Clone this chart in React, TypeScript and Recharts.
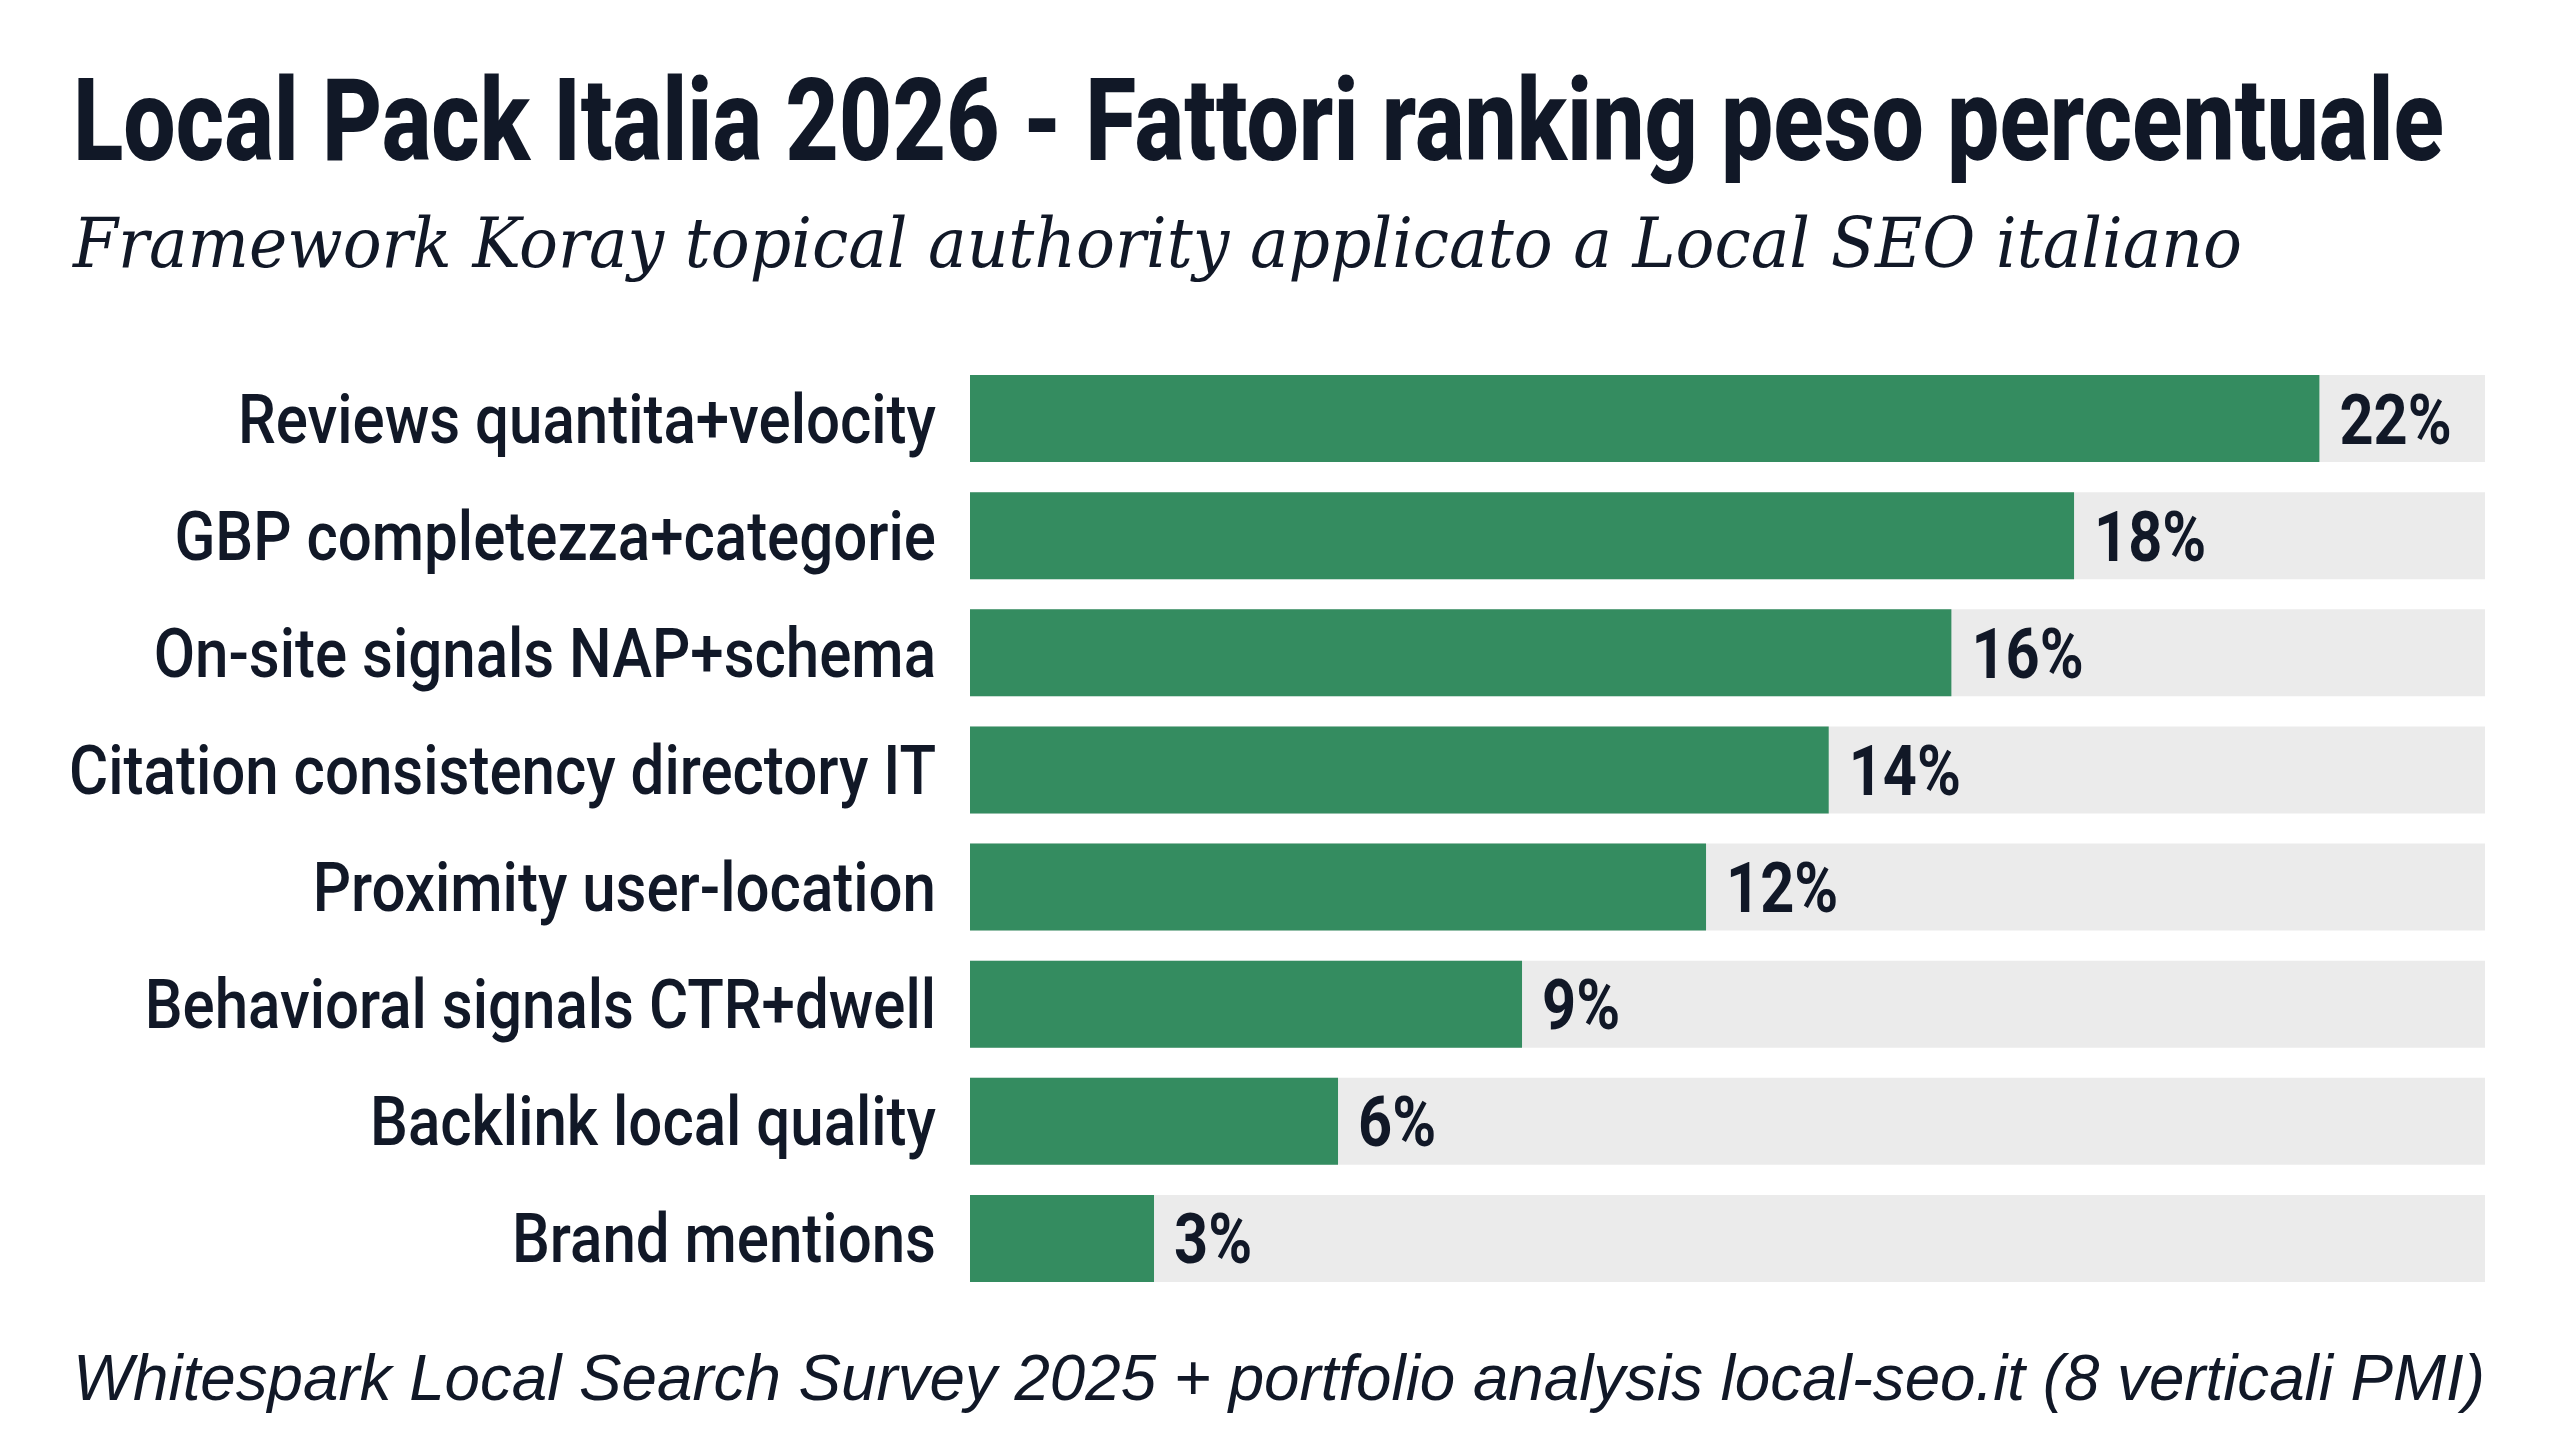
import { BarChart, Bar, XAxis, YAxis, LabelList } from "recharts";

const categories = [
  "Reviews quantita+velocity",
  "GBP completezza+categorie",
  "On-site signals NAP+schema",
  "Citation consistency directory IT",
  "Proximity user-location",
  "Behavioral signals CTR+dwell",
  "Backlink local quality",
  "Brand mentions",
];

const weights = [22, 18, 16, 14, 12, 9, 6, 3];

const title = "Local Pack Italia 2026 - Fattori ranking peso percentuale";
const subtitle = "Framework Koray topical authority applicato a Local SEO italiano";
const source =
  "Whitespark Local Search Survey 2025 + portfolio analysis local-seo.it (8 verticali PMI)";

const data = categories.map((name, i) => ({ name, value: weights[i] }));

const INK = "#111827";
const GREEN = "#348c60";
const TRACK = "#ebebeb";

// etichette categoria, font stretto come nel riferimento
const CategoryTick = ({ x, y, payload }: any) => (
  <g transform={`translate(${x},${y}) scale(0.87,1)`}>
    <text
      x={0}
      y={0}
      dy={24}
      textAnchor="end"
      fill={INK}
      style={{ fontFamily: "Roboto", fontWeight: 500, fontSize: 69 }}
    >
      {payload.value}
    </text>
  </g>
);

const ValueLabel = ({ x, y, width, height, value }: any) => {
  const tx = x + width + 20;
  const ty = y + height / 2;
  return (
    <g transform={`translate(${tx},${ty}) scale(0.85,1)`}>
      <text
        x={0}
        y={0}
        dy={25}
        fill={INK}
        style={{ fontFamily: "Roboto", fontWeight: 700, fontSize: 70 }}
      >
        {value}%
      </text>
    </g>
  );
};

export default function App() {
  return (
    <div
      style={{
        position: "absolute",
        left: 0,
        top: 0,
        width: 2560,
        height: 1429,
        background: "#ffffff",
        overflow: "hidden",
      }}
    >
      <BarChart
        width={2560}
        height={1429}
        data={data}
        layout="vertical"
        margin={{ top: 360, right: 75, bottom: 132, left: 0 }}
      >
        <XAxis type="number" domain={[0, 24.7]} hide />
        <YAxis
          type="category"
          dataKey="name"
          width={970}
          interval={0}
          tickLine={false}
          axisLine={false}
          tickSize={0}
          tickMargin={34}
          tick={<CategoryTick />}
        />
        <Bar
          dataKey="value"
          fill={GREEN}
          barSize={87}
          background={{ fill: TRACK }}
          isAnimationActive={false}
        >
          <LabelList dataKey="value" content={<ValueLabel />} />
        </Bar>
      </BarChart>

      {/* titolo, sottotitolo e fonte */}
      <svg
        width={2560}
        height={1429}
        style={{ position: "absolute", left: 0, top: 0, pointerEvents: "none" }}
      >
        <text
          x={73}
          y={160}
          textLength={2371}
          lengthAdjust="spacingAndGlyphs"
          fill={INK}
          style={{ fontFamily: "Roboto", fontWeight: 800, fontSize: 115 }}
        >
          {title}
        </text>
        <text
          x={73}
          y={267}
          textLength={2169}
          lengthAdjust="spacingAndGlyphs"
          fill={INK}
          style={{ fontFamily: "DejaVu Serif", fontStyle: "italic", fontSize: 69 }}
        >
          {subtitle}
        </text>
        <text
          x={73}
          y={1400}
          textLength={2412}
          lengthAdjust="spacingAndGlyphs"
          fill={INK}
          style={{ fontFamily: "Liberation Sans", fontStyle: "italic", fontSize: 64 }}
        >
          {source}
        </text>
      </svg>
    </div>
  );
}
